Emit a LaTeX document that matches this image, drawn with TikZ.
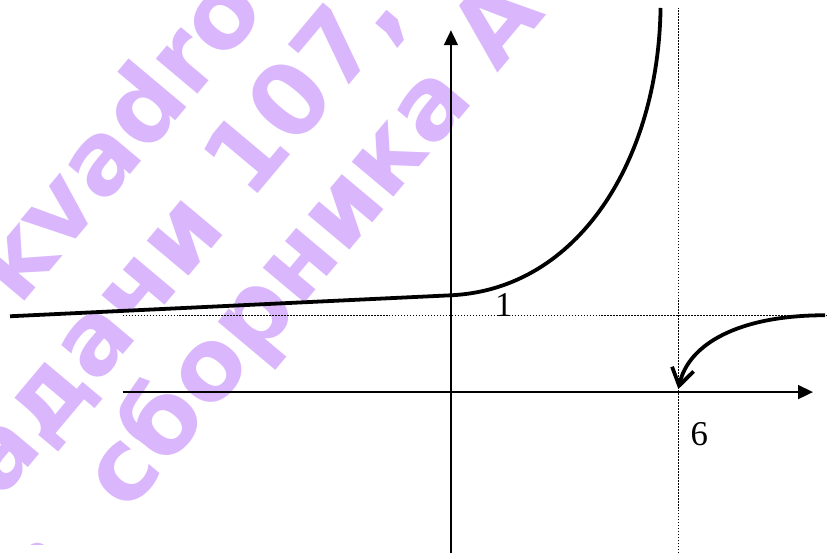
\documentclass[tikz,border=0pt]{standalone}
\usepackage{fontspec}
\setmainfont{Liberation Serif}
\newfontfamily\wmfont{DejaVu Sans}
\usetikzlibrary{arrows.meta}
\definecolor{wmpurple}{RGB}{218,182,252}
\tikzset{
  axis/.style={line width=1.8bp, -{Triangle[length=15bp,width=14bp]}},
  graph/.style={line width=3.8bp},
  asym/.style={line width=1.3bp, dash pattern=on 1.5bp off 1.5bp},
  marklabel/.style={font={\fontsize{35}{40}\selectfont}, inner sep=0pt},
  wm/.style={font={\wmfont\bfseries\fontsize{100}{110}\selectfont}, text=wmpurple,
    rotate=50, anchor=base west, inner sep=0pt}
}

\begin{document}
\begin{tikzpicture}[x=38bp, y=77bp]
    % watermark (pixel coords, origin top left)
    \begin{scope}[shift={(-11.895,5.104)}, x=1bp, y=-1bp]
        \useasboundingbox (0,0) rectangle (827,546);
        \clip (0,0) rectangle (827,546);
        \node[wm] (wm1) at (19,308) {kvadro};
        \node[wm] (wm2) at (-36,545) {задачи 107,};
        \node[wm] (wm3) at (1,667) {из\hspace{70bp}сборника А};
    \end{scope}

    % asymptotes
    \draw[asym] (-8.66,1) -- (9.9,1);
    \draw[asym] (6,-2.1) -- (6,5);

    % axes
    \coordinate (O) at (0,0);
    \draw[axis] (-8.66,0) -- (9.55,0);
    \draw[axis] (0,-2.1) -- (0,4.71);

    % graph
    \draw[graph] (-11.63,0.987) -- (0,1.26)
        .. controls (3.37,1.338) and (5.47,3.026) .. (5.53,5);
    \draw[graph, -{Straight Barb[length=17bp,width=22bp]}] (9.87,1)
        .. controls (7.58,1) and (6.26,0.623) .. (6,0.039);

    \node[marklabel] (one) at (1.395,1.13) {1};
    \node[marklabel] (six) at (6.553,-0.552) {6};
\end{tikzpicture}
\end{document}
